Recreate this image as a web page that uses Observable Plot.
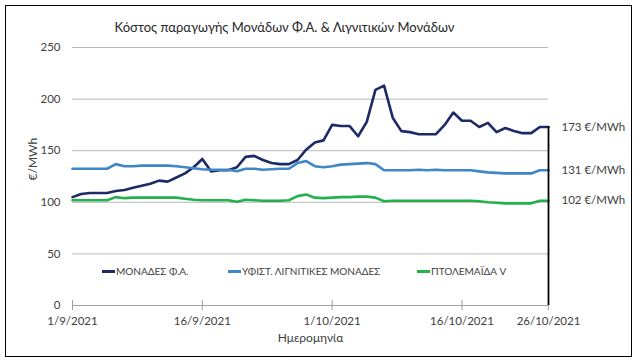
<!DOCTYPE html>
<html><head><meta charset="utf-8">
<script src="https://cdn.jsdelivr.net/npm/d3@7"></script>
<script src="https://cdn.jsdelivr.net/npm/@observablehq/plot@0.6"></script>
<style>
body{margin:0;background:#fff;font-family:Lato,"Open Sans",sans-serif}
#wrap{position:relative;width:640px;height:363px;overflow:hidden}
#frame{position:absolute;left:5px;top:5px;width:627px;height:352px;border:1.5px solid #000;box-sizing:border-box;pointer-events:none}
.lg{position:absolute;top:265px;display:flex;align-items:center;font-size:10px;color:#404040;white-space:nowrap;line-height:12px}
.lg span.sw{display:inline-block;width:13px;height:3px;margin-right:1px}
</style></head>
<body>
<div id="wrap"><div id="chart"></div><div id="frame"></div></div>
<script>
const title = "Κόστος παραγωγής Μονάδων Φ.Α. & Λιγνιτικών Μονάδων";
const yLabel = "€/MWh";
const xLabel = "Ημερομηνία";
const seriesNames = ["ΜΟΝΑΔΕΣ Φ.Α.", "ΥΦΙΣΤ. ΛΙΓΝΙΤΙΚΕΣ ΜΟΝΑΔΕΣ", "ΠΤΟΛΕΜΑΪΔΑ V"];
const seriesColors = ["#1c2a66", "#3f86c8", "#22b14c"];
const startDate = "2021-09-01";
const endDate = "2021-10-26";
const xTickDates = ["2021-09-01", "2021-09-16", "2021-10-01", "2021-10-16", "2021-10-26"];
const yTicks = [0, 50, 100, 150, 200, 250];
const endLabels = ["173 €/MWh", "131 €/MWh", "102 €/MWh"];

const gasUnits = [105,108,109,109,109,111,112,114,116,118,121,120,124,128,134,142,130,131,131,134,
  144,145,141,138,137,137,141,151,158,160,175,174,174,164,178,209,213,182,169,168,
  166,166,166,175,187,179,179,173,177,168,172,169,167,167,173,173];
const ligniteUnits = [132.5,132.5,132.5,132.5,132.5,137,135,135,135.5,135.5,135.5,135.5,135,134,133,132,131.5,131.5,131.5,130,
  132.5,132.5,131.5,132,132.5,132.5,138,140,135,134,135,136.5,137,137.5,138,137,131,131,131,131,
  131.5,131,131.5,131,131,131,131,130,129,128.5,128,128,128,128,131,131];
const ptolemaida = [102,102,102,102,102,105,104,104.5,104.5,104.5,104.5,104.5,104.5,103.5,102.5,102,102,102,102,100.5,
  102.5,102,101.5,101.5,101.5,102,106,107.5,104.5,104,104.5,105,105,105.5,105.5,104.5,101,101.5,101.5,101.5,
  101.5,101.5,101.5,101.5,101.5,101.5,101.5,101,100,99.5,99,99,99,99,101.5,101.5];

const parse = d3.utcParse("%Y-%m-%d");
const dates = d3.utcDay.range(parse(startDate), d3.utcDay.offset(parse(endDate), 1));
const allSeries = [gasUnits, ligniteUnits, ptolemaida];
const rows = allSeries.flatMap((vals, i) => vals.map((v, j) => ({date: dates[j], value: v, series: seriesNames[i]})));
const last = allSeries.map((vals, i) => ({date: dates[vals.length - 1], value: vals[vals.length - 1], text: endLabels[i]}));
const tickDates = xTickDates.map(parse);
const fmt = d => `${d.getUTCDate()}/${d.getUTCMonth() + 1}/${d.getUTCFullYear()}`;

const chart = Plot.plot({
  width: 640, height: 363,
  marginLeft: 72, marginRight: 92, marginTop: 47, marginBottom: 58,
  style: {fontFamily: "Lato, 'Open Sans', sans-serif", background: "white", color: "#404040"},
  x: {type: "utc", domain: [parse(startDate), parse(endDate)]},
  y: {domain: [0, 250]},
  color: {domain: seriesNames, range: seriesColors},
  marks: [
    Plot.ruleY(yTicks.filter(d => d > 0), {stroke: "#b8b8b8", strokeWidth: 1}),
    Plot.ruleY([0], {stroke: "#a0a0a0", strokeWidth: 1}),
    Plot.ruleX(tickDates.slice(0, -1), {y1: 0, y2: 5, stroke: "#a0a0a0"}),
    Plot.axisY({ticks: yTicks, tickSize: 0, tickPadding: 12, label: null, fontSize: 11.5, color: "#404040"}),
    Plot.axisX({ticks: tickDates, tickFormat: fmt, tickSize: 5, tickPadding: 6, label: null, fontSize: 11.5, stroke: "#a0a0a0"}),
    Plot.line(rows, {x: "date", y: "value", z: "series", stroke: "series", strokeWidth: 2.6}),
    Plot.ruleX([last[0]], {x: "date", y1: 0, y2: "value", stroke: "#000", strokeWidth: 1.8}),
    Plot.text(last, {x: "date", y: "value", text: "text", textAnchor: "start", dx: 13, fontSize: 11.5, fill: "#404040"}),
    Plot.text([title], {frameAnchor: "top", dy: -25, dx: -26, fontSize: 13, fill: "#262626"}),
    Plot.text([xLabel], {frameAnchor: "bottom", dy: 36, fontSize: 12, fill: "#404040"}),
    Plot.text([yLabel], {frameAnchor: "left", dx: -39, dy: 4, rotate: -90, fontSize: 12, fill: "#404040"})
  ]
});
document.getElementById("chart").appendChild(chart);

const legendLefts = [102, 228, 417];
const wrap = document.getElementById("wrap");
seriesNames.forEach((name, i) => {
  const div = document.createElement("div");
  div.className = "lg";
  div.style.left = legendLefts[i] + "px";
  div.innerHTML = `<span class="sw" style="background:${seriesColors[i]}"></span><span>${name}</span>`;
  wrap.appendChild(div);
});
</script>
</body></html>
